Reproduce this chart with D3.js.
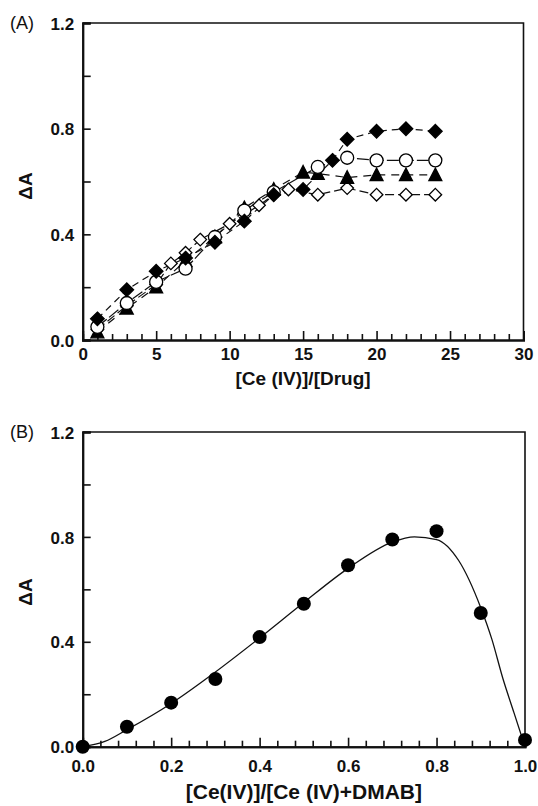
<!DOCTYPE html>
<html>
<head>
<meta charset="utf-8">
<script src="https://cdn.jsdelivr.net/npm/d3@7"></script>
<style>
  body { margin: 0; background: #fff; }
  svg { display: block; font-family: "Liberation Sans", Arial, sans-serif; }
</style>
</head>
<body>
<svg id="chart" width="538" height="806"></svg>
<script>
// Panel A: four series, [Ce(IV)]/[Drug] ratio vs absorbance change
const filledDiamondX = [1, 3, 5, 7, 9, 11, 13, 15, 17, 18, 20, 22, 24];
const filledDiamondY = [0.08, 0.19, 0.26, 0.31, 0.37, 0.45, 0.55, 0.57, 0.68, 0.76, 0.79, 0.80, 0.79];
const openCircleX = [1, 3, 5, 7, 9, 11, 13, 16, 18, 20, 22, 24];
const openCircleY = [0.05, 0.14, 0.22, 0.27, 0.39, 0.49, 0.56, 0.655, 0.69, 0.68, 0.68, 0.68];
const triangleX = [1, 3, 5, 7, 9, 11, 13, 15, 16, 18, 20, 22, 24];
const triangleY = [0.03, 0.12, 0.20, 0.30, 0.39, 0.50, 0.57, 0.635, 0.63, 0.615, 0.625, 0.625, 0.625];
const openDiamondX = [1, 3, 5, 6, 7, 8, 10, 12, 13, 14, 16, 18, 20, 22, 24];
const openDiamondY = [0.04, 0.13, 0.21, 0.29, 0.33, 0.38, 0.44, 0.51, 0.55, 0.57, 0.55, 0.575, 0.55, 0.55, 0.55];

const ticksAY = [0, 0.4, 0.8, 1.2];
const minorAY = [0.2, 0.6, 1.0];
const ticksAX = [0, 5, 10, 15, 20, 25, 30];
const minorAX = d3.range(1, 30).filter((v) => v % 5 !== 0);

// Panel B: continuous variation (Job's) plot
const jobX = [0, 0.1, 0.2, 0.3, 0.4, 0.5, 0.6, 0.7, 0.8, 0.9, 1.0];
const jobY = [0.0, 0.076, 0.168, 0.258, 0.418, 0.545, 0.692, 0.79, 0.822, 0.51, 0.026];
const fitX = [0, 0.05, 0.1, 0.2, 0.3, 0.4, 0.5, 0.6, 0.7, 0.75, 0.8, 0.85, 0.9, 0.925, 0.95, 0.975, 1.0];
const fitY = [0, 0.02, 0.065, 0.165, 0.285, 0.415, 0.55, 0.68, 0.78, 0.80, 0.79, 0.71, 0.53, 0.41, 0.26, 0.13, 0.0];

const ticksBY = [0, 0.4, 0.8, 1.2];
const minorBY = [0.2, 0.6, 1.0];
const ticksBX = [0, 0.2, 0.4, 0.6, 0.8, 1.0];
const minorBX = d3.range(1, 25).filter((i) => i % 5 !== 0).map((i) => i * 0.04);

const svg = d3.select("#chart");

function drawFrame(g, x, y, opts) {
  const [x0, x1] = x.range();
  const [y0, y1] = y.range();

  // top and right frame
  g.append("path")
    .attr("d", `M${x0},${y1}H${x1}V${y0}`)
    .attr("fill", "none")
    .attr("stroke", "#111")
    .attr("stroke-width", 1.6);

  const yAxis = g.append("g")
    .attr("transform", `translate(${x0},0)`)
    .call(d3.axisLeft(y).tickValues(opts.yTicks).tickSize(-8).tickPadding(8.5)
      .tickFormat(d3.format(".1f")));
  g.append("g")
    .attr("transform", `translate(${x0},0)`)
    .call(d3.axisLeft(y).tickValues(opts.yMinor).tickSize(-8).tickFormat(""));

  const xAxis = g.append("g")
    .attr("transform", `translate(0,${y0})`)
    .call(d3.axisBottom(x).tickValues(opts.xTicks).tickSize(-9).tickPadding(opts.xPad)
      .tickFormat(opts.xFormat));
  g.append("g")
    .attr("transform", `translate(0,${y0})`)
    .call(d3.axisBottom(x).tickValues(opts.xMinor).tickSize(-6).tickFormat(""));

  g.selectAll(".domain").attr("stroke", "#111").attr("stroke-width", 2);
  g.selectAll(".tick line").attr("stroke", "#111").attr("stroke-width", 1.6);
  g.selectAll(".tick text")
    .attr("fill", "#111")
    .style("font-size", "17px")
    .style("font-weight", "bold");
  yAxis.selectAll(".tick text").attr("dy", "0.36em");
  xAxis.selectAll(".tick text").attr("dy", "0.71em");

  g.append("text")
    .attr("x", (x0 + x1) / 2)
    .attr("y", opts.titleY)
    .attr("text-anchor", "middle")
    .style("font-size", opts.titleSize)
    .style("font-weight", "bold")
    .attr("fill", "#111")
    .text(opts.xTitle);

  g.append("text")
    .attr("transform", `translate(${opts.yTitleX},${opts.yTitleY}) rotate(-90)`)
    .attr("text-anchor", "middle")
    .style("font-size", "19px")
    .style("font-weight", "bold")
    .attr("fill", "#111")
    .text("ΔA");

  g.append("text")
    .attr("x", 10)
    .attr("y", y1 + 6)
    .style("font-size", "18px")
    .attr("fill", "#111")
    .text(opts.panel);
}

// ---------- Panel A ----------
const xA = d3.scaleLinear().domain([0, 30]).range([82.7, 523.5]);
const yA = d3.scaleLinear().domain([0, 1.2]).range([340, 23]);
const gA = svg.append("g");

drawFrame(gA, xA, yA, {
  yTicks: ticksAY, yMinor: minorAY, xTicks: ticksAX, xMinor: minorAX,
  xFormat: d3.format("d"), xPad: 8, xTitle: "[Ce (IV)]/[Drug]", titleY: 385, titleSize: "19px",
  yTitleX: 32, yTitleY: 186, panel: "(A)"
});

const marker = {
  diamond: (s) => `M0,${-s}L${s},0L0,${s}L${-s},0Z`,
  circle: (s) => `M${s},0A${s},${s},0,1,1,${-s},0A${s},${s},0,1,1,${s},0Z`,
  triangle: (s) => `M0,${-s}L${s * 0.95},${s * 0.85}L${-s * 0.95},${s * 0.85}Z`
};

const seriesA = [
  { xs: openDiamondX, ys: openDiamondY, shape: "diamond", s: 6.3, fill: "#fff", dash: "9,4" },
  { xs: triangleX, ys: triangleY, shape: "triangle", s: 6.8, fill: "#000", dash: "8,6" },
  { xs: openCircleX, ys: openCircleY, shape: "circle", s: 6.5, fill: "#fff", dash: "12,3" },
  { xs: filledDiamondX, ys: filledDiamondY, shape: "diamond", s: 6.8, fill: "#000", dash: "7,5" }
];

const lineA = d3.line().x((d) => xA(d[0])).y((d) => yA(d[1]));

seriesA.forEach((s) => {
  const pts = s.xs.map((v, i) => [v, s.ys[i]]);
  gA.append("path")
    .datum(pts)
    .attr("d", lineA)
    .attr("fill", "none")
    .attr("stroke", "#111")
    .attr("stroke-width", 1.2)
    .attr("stroke-dasharray", s.dash);
});

seriesA.forEach((s) => {
  const pts = s.xs.map((v, i) => [v, s.ys[i]]);
  gA.append("g")
    .selectAll("path")
    .data(pts)
    .join("path")
    .attr("transform", (d) => `translate(${xA(d[0])},${yA(d[1])})`)
    .attr("d", marker[s.shape](s.s))
    .attr("fill", s.fill)
    .attr("stroke", "#000")
    .attr("stroke-width", 1.3);
});

// ---------- Panel B ----------
const xB = d3.scaleLinear().domain([0, 1]).range([82.7, 525]);
const yB = d3.scaleLinear().domain([0, 1.2]).range([746.7, 432]);
const gB = svg.append("g");

drawFrame(gB, xB, yB, {
  yTicks: ticksBY, yMinor: minorBY, xTicks: ticksBX, xMinor: minorBX,
  xFormat: d3.format(".1f"), xPad: 13, xTitle: "[Ce(IV)]/[Ce (IV)+DMAB]", titleY: 799, titleSize: "21px",
  yTitleX: 32, yTitleY: 592, panel: "(B)"
});

gB.append("path")
  .datum(fitX.map((v, i) => [v, fitY[i]]))
  .attr("d", d3.line().x((d) => xB(d[0])).y((d) => yB(d[1])).curve(d3.curveMonotoneX))
  .attr("fill", "none")
  .attr("stroke", "#111")
  .attr("stroke-width", 1.3);

gB.append("g")
  .selectAll("circle")
  .data(jobX.map((v, i) => [v, jobY[i]]))
  .join("circle")
  .attr("cx", (d) => xB(d[0]))
  .attr("cy", (d) => yB(d[1]))
  .attr("r", 7)
  .attr("fill", "#000");
</script>
</body>
</html>
